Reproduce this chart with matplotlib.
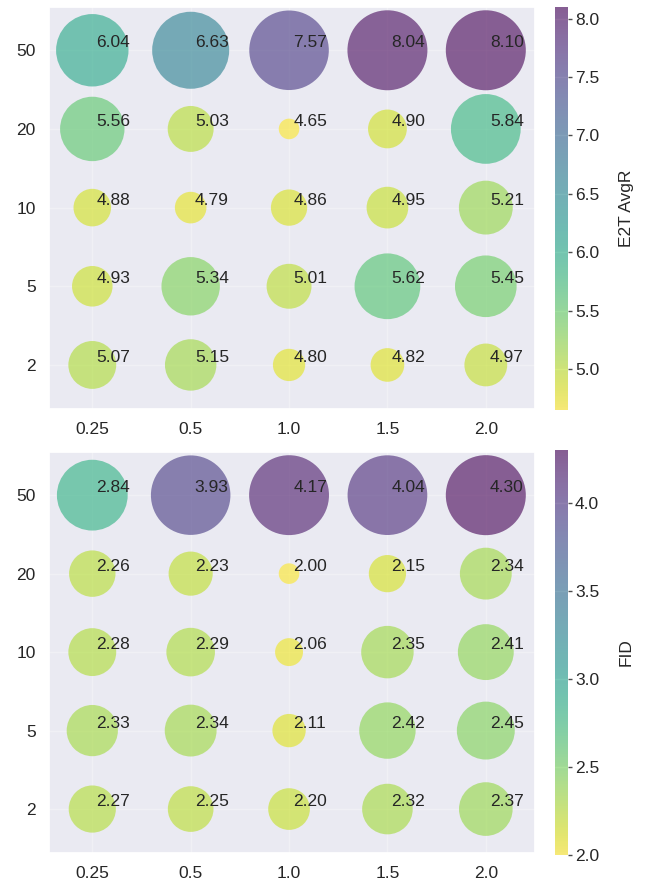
import numpy as np
import matplotlib
matplotlib.use('Agg')
import matplotlib.pyplot as plt
import seaborn as sns

sns.set_theme(style='darkgrid')
plt.rcParams['font.family'] = ['Liberation Sans', 'DejaVu Sans']

x_labels = ['0.25', '0.5', '1.0', '1.5', '2.0']
y_labels = ['2', '5', '10', '20', '50']

# rows follow y_labels (2 -> 50), columns follow x_labels
e2t_avgr = [
    [5.07, 5.15, 4.80, 4.82, 4.97],
    [4.93, 5.34, 5.01, 5.62, 5.45],
    [4.88, 4.79, 4.86, 4.95, 5.21],
    [5.56, 5.03, 4.65, 4.90, 5.84],
    [6.04, 6.63, 7.57, 8.04, 8.10],
]
fid = [
    [2.27, 2.25, 2.20, 2.32, 2.37],
    [2.33, 2.34, 2.11, 2.42, 2.45],
    [2.28, 2.29, 2.06, 2.35, 2.41],
    [2.26, 2.23, 2.00, 2.15, 2.34],
    [2.84, 3.93, 4.17, 4.04, 4.30],
]

DPI = 100
fig = plt.figure(figsize=(6.46, 8.8), dpi=DPI)


def bubble_sizes(v):
    # saturating radius mapping, radius in pixels -> marker area in pt^2
    t = (v - v.min()) / (v.max() - v.min())
    r_px = 10.3 + 29.7 * (1 - np.exp(-5 * t)) / (1 - np.exp(-5))
    d_pt = 2 * r_px * 72 / DPI
    return d_pt ** 2


def bubble_panel(rect, cbar_rect, values, label):
    ax = fig.add_axes(rect)
    vals = np.array(values)
    xi, yi = np.meshgrid(np.arange(len(x_labels)), np.arange(len(y_labels)))
    xi, yi, v = xi.ravel(), yi.ravel(), vals.ravel()
    sc = ax.scatter(xi, yi, s=bubble_sizes(v), c=v, cmap='viridis_r',
                    alpha=0.6, linewidths=0, vmin=v.min(), vmax=v.max())
    for x, y, val in zip(xi, yi, v):
        ax.annotate(f'{val:.2f}', (x, y), xytext=(3, 0),
                    textcoords='offset points', ha='left', va='bottom',
                    fontsize=12.5, color='0.15')
    ax.set_xticks(range(len(x_labels)))
    ax.set_xticklabels(x_labels)
    ax.set_yticks(range(len(y_labels)))
    ax.set_yticklabels(y_labels)
    ax.set_xlim(-0.44, 4.5)
    ax.set_ylim(-0.56, 4.55)
    ax.grid(alpha=0.3)
    ax.tick_params(labelsize=12.5)
    cax = fig.add_axes(cbar_rect)
    cb = fig.colorbar(sc, cax=cax)
    cb.set_label(label, fontsize=12.5, labelpad=14)
    cb.ax.tick_params(labelsize=12.5, right=True, length=3, width=1,
                      color='0.3', pad=2)
    cb.outline.set_visible(False)
    return ax


bubble_panel([49 / 646, 1 - 409 / 880, 486 / 646, 402 / 880],
             [555 / 646, 1 - 410 / 880, 13 / 646, 403 / 880],
             e2t_avgr, 'E2T AvgR')
bubble_panel([49 / 646, 1 - 853 / 880, 486 / 646, 401 / 880],
             [555 / 646, 1 - 855 / 880, 13 / 646, 405 / 880],
             fid, 'FID')

fig.savefig('out.png', dpi=DPI)
